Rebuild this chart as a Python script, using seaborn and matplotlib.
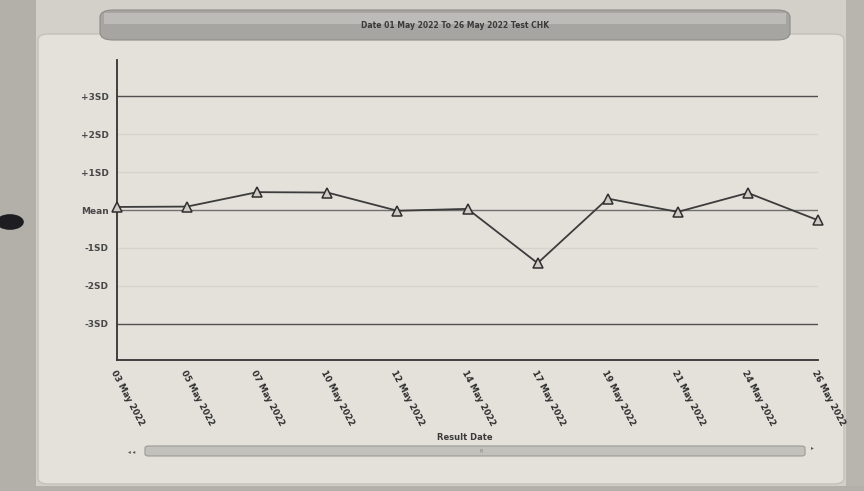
import matplotlib
matplotlib.use("Agg")
import matplotlib.pyplot as plt
from matplotlib.patches import FancyBboxPatch, Rectangle, Circle
import seaborn as sns
import pandas as pd
import numpy as np

# ---- data ----
dates = ["03 May 2022", "05 May 2022", "07 May 2022", "10 May 2022", "12 May 2022",
         "14 May 2022", "17 May 2022", "19 May 2022", "21 May 2022", "24 May 2022",
         "26 May 2022"]
sd_values = [0.08, 0.09, 0.47, 0.46, -0.02, 0.03, -1.40, 0.30, -0.05, 0.45, -0.27]
sd_levels = [3, 2, 1, 0, -1, -2, -3]
sd_labels = ["+3SD", "+2SD", "+1SD", "Mean", "-1SD", "-2SD", "-3SD"]
title_text = "Date 01 May 2022 To 26 May 2022 Test CHK"
xlabel_text = "Result Date"

sns.set_style("white")
plt.rcParams["font.family"] = ["DejaVu Sans"]

W, H = 864, 491
fig = plt.figure(figsize=(W / 100, H / 100), dpi=100)
fig.patch.set_facecolor("#d3d0ca")

def fx(px):
    return px / W

def fy(py):
    return 1 - py / H

# outer frame pieces
fig.add_artist(Rectangle((0, 0), fx(36), 1, transform=fig.transFigure,
                         facecolor="#b3b0aa", edgecolor="none", zorder=0))
fig.add_artist(Rectangle((fx(846), 0), 1 - fx(846), 1, transform=fig.transFigure,
                         facecolor="#b8b5af", edgecolor="none", zorder=0))
fig.add_artist(Rectangle((0, 0), 1, fy(486), transform=fig.transFigure,
                         facecolor="#b3b0aa", edgecolor="none", zorder=0))
fig.add_artist(Circle((fx(10), fy(222)), 0.016, transform=fig.transFigure,
                      facecolor="#1e1e22", edgecolor="none", zorder=1))

# inner panel
fig.add_artist(FancyBboxPatch((fx(38), fy(484)), fx(806), fy(34) - fy(484),
                              boxstyle="round,pad=0,rounding_size=0.012",
                              transform=fig.transFigure, facecolor="#e4e1db",
                              edgecolor="#c4c1bb", linewidth=1, zorder=1))

# title bar
fig.add_artist(FancyBboxPatch((fx(100), fy(40)), fx(690), fy(10) - fy(40),
                              boxstyle="round,pad=0,rounding_size=0.015",
                              transform=fig.transFigure, facecolor="#a7a5a1",
                              edgecolor="#8e8c88", linewidth=0.8, zorder=2))
fig.add_artist(Rectangle((fx(104), fy(24)), fx(682), fy(13) - fy(24),
                         transform=fig.transFigure, facecolor="#bdbbb7",
                         edgecolor="none", zorder=2))
fig.text(fx(455), fy(25), title_text, ha="center", va="center", fontsize=5.5,
         fontweight="bold", color="#3a3a3a", zorder=3)

# axes
ax = fig.add_axes([fx(117), fy(360), fx(818) - fx(117), fy(60) - fy(360)])
ax.set_facecolor("none")
ax.set_zorder(5)

for lv in sd_levels:
    if lv in (3, -3):
        ax.axhline(lv, color="#505050", lw=1.0, zorder=1)
    elif lv == 0:
        ax.axhline(lv, color="#707070", lw=1.0, zorder=1)
    else:
        ax.axhline(lv, color="#d6d3cd", lw=1.0, zorder=1)

df = pd.DataFrame({"idx": np.arange(len(dates)), "sd": sd_values})
sns.lineplot(data=df, x="idx", y="sd", ax=ax, color="#3c3c3c", lw=1.3,
             marker="^", markersize=6.5, markerfacecolor="#cfccc6",
             markeredgecolor="#2e2e2e", markeredgewidth=1.1, zorder=4, clip_on=False)

ax.set_xlim(0, len(dates) - 1)
ax.set_ylim(-3.95, 3.95)
ax.set_yticks(sd_levels)
ax.set_yticklabels(sd_labels, fontsize=6.5, fontweight="bold", color="#484848")
ax.set_xticks(np.arange(len(dates)))
ax.set_xticklabels(dates, rotation=-62, ha="left", va="top", rotation_mode="anchor",
                   fontsize=6.2, fontweight="bold", color="#2e2e2e")
ax.set_xticks(np.arange(len(dates) - 1) + 0.5, minor=True)
ax.tick_params(axis="both", which="major", direction="out", length=4, width=1,
               color="#333333", pad=2)
ax.tick_params(axis="x", which="minor", direction="out", length=3, width=1,
               color="#333333")
ax.set_xlabel("")
ax.set_ylabel("")
for side in ("top", "right"):
    ax.spines[side].set_visible(False)
for side in ("left", "bottom"):
    ax.spines[side].set_color("#333333")
    ax.spines[side].set_linewidth(1.3)

fig.text(fx(465), fy(437), xlabel_text, ha="center", va="center", fontsize=6,
         fontweight="bold", color="#3a3a3a")

# scrollbar
fig.add_artist(FancyBboxPatch((fx(145), fy(456)), fx(660), fy(446) - fy(456),
                              boxstyle="round,pad=0,rounding_size=0.004",
                              transform=fig.transFigure, facecolor="#c3c1bc",
                              edgecolor="#9c9a96", linewidth=0.8, zorder=2))
fig.text(fx(132), fy(452), "◂ ◂", ha="center", va="center", fontsize=4,
         color="#555555")
fig.text(fx(812), fy(448), "▸", ha="center", va="center", fontsize=4,
         color="#555555")
fig.text(fx(482), fy(451), "|||", ha="center", va="center", fontsize=3,
         color="#777777")

fig.savefig("out.png", dpi=100, facecolor=fig.get_facecolor())
